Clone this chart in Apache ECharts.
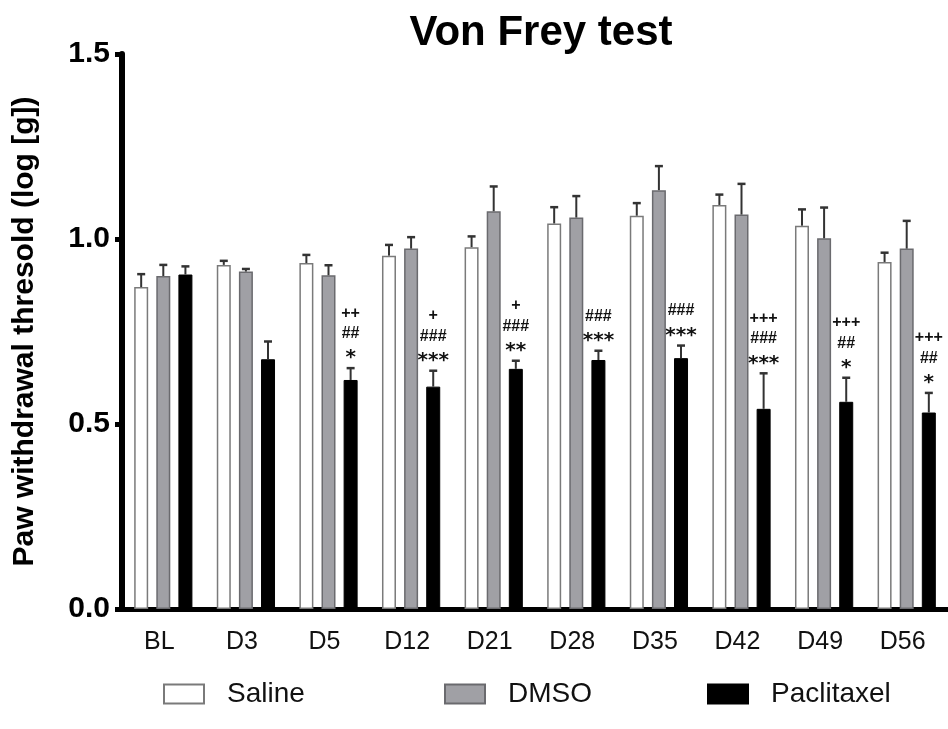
<!DOCTYPE html>
<html>
<head>
<meta charset="utf-8">
<script src="https://cdn.jsdelivr.net/npm/echarts@6/dist/echarts.min.js"></script>
<style>
  html, body { margin: 0; padding: 0; background: #fff; }
  #chart { width: 948px; height: 729px; }
</style>
</head>
<body>
<div id="chart"></div>
<script>
// time points
var categories = ['BL', 'D3', 'D5', 'D12', 'D21', 'D28', 'D35', 'D42', 'D49', 'D56'];

// mean and SEM, log [g]
var salineMean = [0.870, 0.930, 0.935, 0.955, 0.978, 1.042, 1.063, 1.092, 1.036, 0.938];
var salineErr  = [0.035, 0.011, 0.022, 0.029, 0.029, 0.044, 0.034, 0.028, 0.044, 0.025];
var dmsoMean   = [0.900, 0.912, 0.902, 0.974, 1.075, 1.058, 1.132, 1.066, 1.002, 0.974];
var dmsoErr    = [0.030, 0.007, 0.027, 0.031, 0.067, 0.058, 0.065, 0.083, 0.083, 0.075];
var pacMean    = [0.904, 0.675, 0.619, 0.601, 0.649, 0.673, 0.678, 0.541, 0.560, 0.531];
var pacErr     = [0.022, 0.048, 0.032, 0.043, 0.022, 0.025, 0.034, 0.096, 0.065, 0.053];

// significance marks over paclitaxel bars (top line first)
var pacMarks = [
    [], [], ['++', '##', '*'], ['+', '###', '***'], ['+', '###', '**'],
    ['###', '***'], ['###', '***'], ['+++', '###', '***'], ['+++', '##', '*'], ['+++', '##', '*']
];

var yTicks = [0, 0.5, 1.0, 1.5];

var BAR_W = 14;
var BAR_GAP = 0.58;
var STEP = BAR_W * (1 + BAR_GAP);
var FONT = '"Liberation Sans", Arial, Helvetica, sans-serif';

function toRows(mean, err) {
    return mean.map(function (m, i) { return [i, m, err[i]]; });
}

// error bar (upper only) + optional marks above it
function errorRenderer(offset, marks) {
    return function (params, api) {
        var i = api.value(0), m = api.value(1), e = api.value(2);
        var base = api.coord([i, m]);
        var top = api.coord([i, m + e]);
        var x = base[0] + offset;
        var kids = [
            { type: 'line', shape: { x1: x, y1: base[1], x2: x, y2: top[1] },
              style: { stroke: '#333', lineWidth: 2 } },
            { type: 'line', shape: { x1: x - 4, y1: top[1], x2: x + 4, y2: top[1] },
              style: { stroke: '#333', lineWidth: 2.5 } }
        ];
        if (marks) {
            var lines = marks[i] || [];
            for (var k = 0; k < lines.length; k++) {
                var fromBottom = lines.length - 1 - k;
                var txt = lines[k];
                var star = txt.charAt(0) === '*';
                kids.push({
                    type: 'text',
                    style: {
                        text: txt,
                        x: x,
                        y: top[1] - 14 - fromBottom * 20.5 + (star ? 4 : 0),
                        align: 'center',
                        verticalAlign: 'middle',
                        fill: '#111',
                        font: star ? 'bold 20px "DejaVu Sans"' : 'bold 16px "Liberation Sans"'
                    }
                });
            }
        }
        return { type: 'group', children: kids };
    };
}

var chart = echarts.init(document.getElementById('chart'), null, { renderer: 'canvas' });

var option = {
    backgroundColor: '#fff',
    animation: false,
    title: {
        text: 'Von Frey test',
        left: 536,
        top: 7,
        textAlign: 'center',
        textStyle: { fontFamily: FONT, fontSize: 42, fontWeight: 'bold', color: '#000' }
    },
    legend: [
        { data: ['Saline'], left: 163, top: 680 },
        { data: ['DMSO'], left: 444, top: 680 },
        { data: ['Paclitaxel'], left: 707, top: 680 }
    ].map(function (l) {
        l.orient = 'horizontal';
        l.icon = 'rect';
        l.itemWidth = 40;
        l.itemHeight = 19;
        l.padding = 0;
        l.selectedMode = false;
        l.textStyle = { fontFamily: FONT, fontSize: 28, color: '#111', padding: [0, 0, 0, 18] };
        return l;
    }),
    grid: { left: 122, top: 54, width: 832, bottom: 120, containLabel: false },
    xAxis: {
        type: 'category',
        data: categories,
        axisLine: { lineStyle: { color: '#000', width: 5 } },
        axisTick: { show: false },
        axisLabel: {
            fontFamily: FONT, fontSize: 25, color: '#111', margin: 21,
            padding: [0, 8, 0, 0], interval: 0
        }
    },
    yAxis: {
        type: 'value',
        min: yTicks[0],
        max: yTicks[yTicks.length - 1],
        interval: 0.5,
        name: 'Paw withdrawal thresold (log [g])',
        nameLocation: 'middle',
        nameGap: 82,
        nameTextStyle: { fontFamily: FONT, fontSize: 30, fontWeight: 'bold', color: '#000' },
        splitLine: { show: false },
        axisLine: { show: true, lineStyle: { color: '#000', width: 6 } },
        axisTick: { show: true, length: 7, lineStyle: { color: '#000', width: 5 } },
        axisLabel: {
            fontFamily: FONT, fontSize: 30, fontWeight: 'bold', color: '#000', margin: 12,
            formatter: function (v) { return v.toFixed(1); }
        }
    },
    series: [
        {
            name: 'Saline', type: 'bar', data: salineMean,
            barWidth: BAR_W, barGap: (BAR_GAP * 100) + '%',
            itemStyle: { color: '#fff', borderColor: '#7a7a7a', borderWidth: 1.5 }
        },
        {
            name: 'DMSO', type: 'bar', data: dmsoMean,
            barWidth: BAR_W, barGap: (BAR_GAP * 100) + '%',
            itemStyle: { color: '#a0a0a5', borderColor: '#6a6a6e', borderWidth: 1.5 }
        },
        {
            name: 'Paclitaxel', type: 'bar', data: pacMean,
            barWidth: BAR_W, barGap: (BAR_GAP * 100) + '%',
            itemStyle: { color: '#000', borderColor: '#000', borderWidth: 1 }
        },
        {
            type: 'custom', data: toRows(salineMean, salineErr),
            renderItem: errorRenderer(-STEP, null), z: 3, silent: true
        },
        {
            type: 'custom', data: toRows(dmsoMean, dmsoErr),
            renderItem: errorRenderer(0, null), z: 3, silent: true
        },
        {
            type: 'custom', data: toRows(pacMean, pacErr),
            renderItem: errorRenderer(STEP, pacMarks), z: 3, silent: true, clip: false
        }
    ]
};

chart.setOption(option);
</script>
</body>
</html>
